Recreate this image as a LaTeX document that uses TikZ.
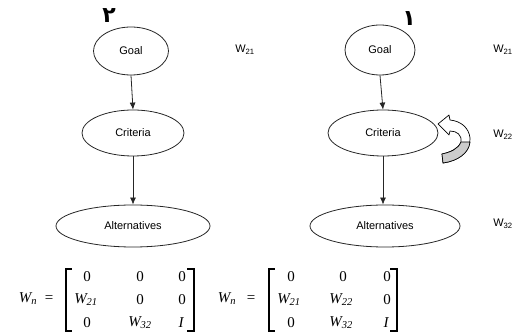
\documentclass[tikz,border=0pt]{standalone}
\usepackage{fontspec}
\setmainfont{Liberation Sans}
\newfontfamily\serifm{Liberation Serif}
\newfontfamily\arabicfont[Script=Arabic]{DejaVu Sans}
\TeXXeTstate=1
\usetikzlibrary{arrows.meta,shapes.geometric}
\begin{document}
\begin{tikzpicture}[x=1pt,y=-1pt,
  ell/.style={draw=black!85, line width=0.8pt, ellipse, inner sep=0pt, font=\fontsize{11}{12}\selectfont},
  conn/.style={draw=black!85, line width=0.8pt, -{Latex[length=7pt,width=6pt]}},
  wlab/.style={font=\fontsize{11}{12}\selectfont, inner sep=0pt},
  ent/.style={font=\serifm\fontsize{15}{16}\selectfont, inner sep=0pt},
  brk/.style={line width=1.6pt, line cap=rect},
  arab/.style={font=\arabicfont\bfseries\fontsize{22}{24}\selectfont, inner sep=0pt}
]
\useasboundingbox (0,0) rectangle (525,336);

% left hierarchy
\node[ell, minimum width=75pt, minimum height=48pt] (g1) at (131,51) {Goal};
\node[ell, minimum width=102pt, minimum height=46pt] (c1) at (133,133) {Criteria};
\node[ell, minimum width=154pt, minimum height=42pt] (a1) at (133,226) {Alternatives};
\draw[conn] (g1.south) -- (c1.north);
\draw[conn] (c1.south) -- (a1.north);
\node[wlab] (w1) at (245,50) {W\textsubscript{21}};
\node[arab] (n2) at (109,16) {\beginR ٢\endR};

% right hierarchy
\node[ell, minimum width=70pt, minimum height=50pt] (g2) at (380,50) {Goal};
\node[ell, minimum width=110pt, minimum height=46pt] (c2) at (383,133) {Criteria};
\node[ell, minimum width=150pt, minimum height=42pt] (a2) at (385,226) {Alternatives};
\draw[conn] (g2.south) -- (c2.north);
\draw[conn] (c2.south) -- (c2.south |- a2.north);
\node[wlab] (w2) at (503,50) {W\textsubscript{21}};
\node[wlab] (w3) at (503,135) {W\textsubscript{22}};
\node[wlab] (w4) at (503,224) {W\textsubscript{32}};
\node[arab] (n1) at (409,19) {\beginR ١\endR};

% curved self-loop arrow
\draw[line width=0.7pt, fill=white, line join=round]
  (443,163) .. controls (458,161) and (471,152) .. (470,138)
  .. controls (469,128) and (461,121) .. (450,120)
  -- (449,115) -- (438,124) -- (449,135) -- (450,131)
  .. controls (457,131) and (462,135) .. (461,142)
  .. controls (458,149) and (451,152) .. (442,154) -- cycle;
\draw[line width=0.7pt, fill=black!20, line join=round]
  (443,163) .. controls (458,161) and (469,153) .. (470,142)
  -- (461,142) .. controls (458,149) and (451,152) .. (442,154) -- cycle;

% matrices
\node[ent] (m0) at (28,299) {\itshape W\textsubscript{n}};
\node[ent] (e0) at (49,299) {=};
\draw[brk] (71,269) -- (66,269) -- (66,331) -- (71,331);
\draw[brk] (188,269) -- (194,269) -- (194,331) -- (188,331);
\node[ent] (a11) at (87,277) {0};
\node[ent] (a12) at (140,277) {0};
\node[ent] (a13) at (182,277) {0};
\node[ent] (a21) at (86,300) {\itshape W\textsubscript{21}};
\node[ent] (a22) at (140,300) {0};
\node[ent] (a23) at (182,300) {0};
\node[ent] (a31) at (87,323) {0};
\node[ent] (a32) at (140,323) {\itshape W\textsubscript{32}};
\node[ent] (a33) at (181,323) {\itshape I};

\node[ent] (m1) at (227,299) {\itshape W\textsubscript{n}};
\node[ent] (e1) at (251,299) {=};
\draw[brk] (274,269) -- (269,269) -- (269,331) -- (274,331);
\draw[brk] (391,269) -- (397,269) -- (397,331) -- (391,331);
\node[ent] (b11) at (291,277) {0};
\node[ent] (b12) at (343,277) {0};
\node[ent] (b13) at (387,277) {0};
\node[ent] (b21) at (289,300) {\itshape W\textsubscript{21}};
\node[ent] (b22) at (341,300) {\itshape W\textsubscript{22}};
\node[ent] (b23) at (387,300) {0};
\node[ent] (b31) at (291,323) {0};
\node[ent] (b32) at (341,323) {\itshape W\textsubscript{32}};
\node[ent] (b33) at (386,323) {\itshape I};
\end{tikzpicture}
\end{document}
